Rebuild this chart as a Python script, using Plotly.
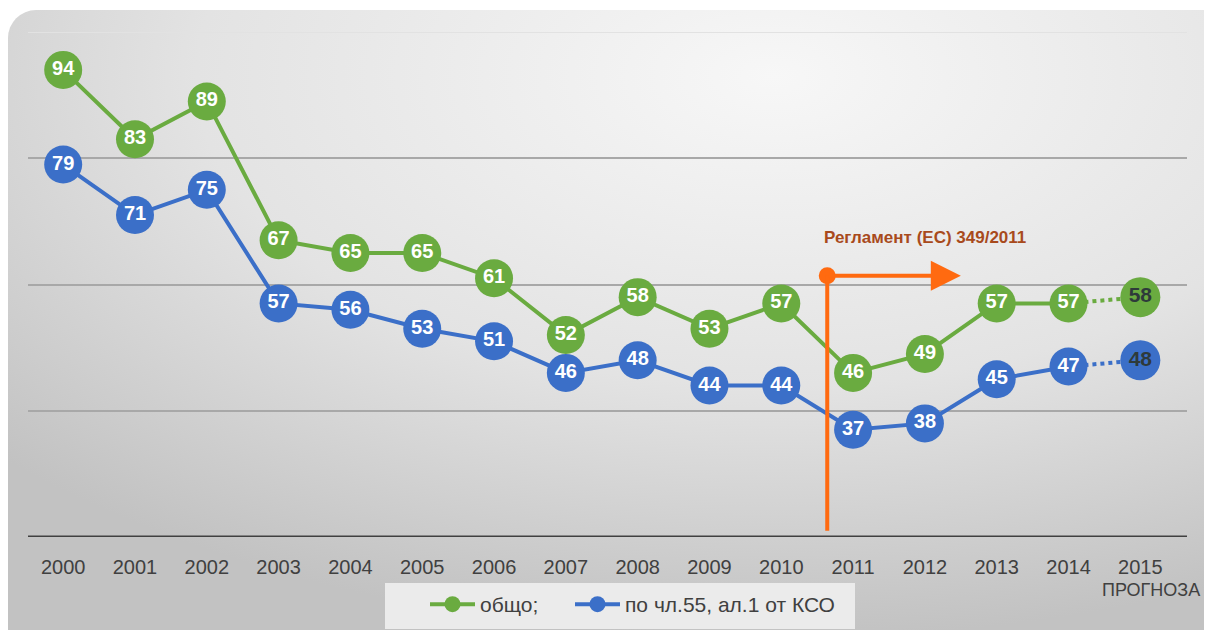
import plotly.graph_objects as go
import urllib.parse

years = ["2000", "2001", "2002", "2003", "2004", "2005", "2006", "2007",
         "2008", "2009", "2010", "2011", "2012", "2013", "2014", "2015"]
total = [94, 83, 89, 67, 65, 65, 61, 52, 58, 53, 57, 46, 49, 57, 57, 58]
art55 = [79, 71, 75, 57, 56, 53, 51, 46, 48, 44, 44, 37, 38, 45, 47, 48]
name_total = "общо;"
name_art55 = "по чл.55, ал.1 от КСО"
forecast_label = "ПРОГНОЗА"
reg_label = "Регламент (ЕС) 349/2011"
reg_pos = 10.64      # between 2010 and 2011
reg_top = 61.4
reg_bottom = 21
reg_arrow_end = 12.5

# page body has an 8px margin, so the figure is sized to fit the window
W, H = 1204, 622
L, R, T, B = 20, 25, 24, 93
pw, ph = W - L - R, H - T - B

GREEN = "#6aab40"
BLUE = "#3b6fc8"
ORANGE = "#ff6a10"
FONT = "Liberation Sans Narrow, Arial Narrow, Liberation Sans, Arial, sans-serif"

xs = list(range(len(years)))
n_act = len(years) - 1  # last one is forecast

svg = f'''<svg xmlns="http://www.w3.org/2000/svg" width="{W}" height="{H}">
<defs><radialGradient id="g" cx="0.62" cy="0.1" r="0.85" gradientUnits="objectBoundingBox">
<stop offset="0" stop-color="#f7f7f7"/><stop offset="0.55" stop-color="#e3e3e3"/><stop offset="1" stop-color="#c2c2c2"/></radialGradient></defs>
<rect x="0" y="0" width="{W}" height="{H}" fill="#ffffff"/>
<rect x="0" y="2" width="{W+30}" height="{H+40}" rx="28" ry="28" fill="url(#g)"/>
</svg>'''
bg_src = "data:image/svg+xml;charset=utf-8," + urllib.parse.quote(svg)

fig = go.Figure()

# forecast dotted connectors
for vals, col in ((total, GREEN), (art55, BLUE)):
    fig.add_trace(go.Scatter(
        x=xs[n_act - 1:], y=vals[n_act - 1:], mode="lines",
        line=dict(color=col, width=4, dash="dot"),
        showlegend=False, hoverinfo="skip"))

for vals, col, nm, lg in ((total, GREEN, name_total, "legend"),
                          (art55, BLUE, name_art55, "legend2")):
    fig.add_trace(go.Scatter(
        x=xs[:n_act], y=vals[:n_act], mode="lines+markers+text", name=nm,
        line=dict(color=col, width=4),
        marker=dict(size=38, color=col),
        text=[str(v) for v in vals[:n_act]], textposition="middle center",
        textfont=dict(family=FONT, size=20, color="white", weight="bold"),
        cliponaxis=False, legend=lg))

for vals, col in ((total, GREEN), (art55, BLUE)):
    fig.add_trace(go.Scatter(
        x=xs[n_act:], y=vals[n_act:], mode="markers+text",
        marker=dict(size=40, color=col),
        text=[str(v) for v in vals[n_act:]], textposition="middle center",
        textfont=dict(family=FONT, size=21, color="#2e3a3a", weight="bold"),
        showlegend=False, cliponaxis=False))

# regulation marker
fig.add_shape(type="line", x0=reg_pos, x1=reg_pos, y0=reg_bottom, y1=reg_top,
              line=dict(color=ORANGE, width=4))
fig.add_annotation(x=reg_arrow_end, y=reg_top, ax=reg_pos, ay=reg_top,
                   xref="x", yref="y", axref="x", ayref="y", text="",
                   showarrow=True, arrowhead=2, arrowsize=1.5, arrowwidth=4,
                   arrowcolor=ORANGE)
fig.add_trace(go.Scatter(x=[reg_pos], y=[reg_top], mode="markers",
                         marker=dict(size=17, color=ORANGE),
                         showlegend=False, hoverinfo="skip", cliponaxis=False))
fig.add_annotation(x=12.0, y=67.4, xref="x", yref="y", text=reg_label,
                   showarrow=False,
                   font=dict(family="Liberation Sans, Arial, sans-serif",
                             size=17, color="#a84a1c", weight="bold"))

# forecast label under 2015
fig.add_annotation(x=15.15, y=-0.105, xref="x", yref="paper", text=forecast_label,
                   showarrow=False, yanchor="middle",
                   font=dict(family=FONT, size=18, color="#404040"))

# top light gridline & baseline
fig.add_shape(type="line", xref="paper", x0=0, x1=1, y0=100, y1=100,
              line=dict(color="#e2e2e2", width=2), layer="below")
fig.add_shape(type="line", xref="paper", x0=0, x1=1, y0=20, y1=20,
              line=dict(color="#404040", width=3), layer="below")

# legend box
lx0, lx1, ly0, ly1 = 377, 847, 575, 621
fig.add_shape(type="rect", xref="paper", yref="paper",
              x0=(lx0 - L) / pw, x1=(lx1 - L) / pw,
              y0=-(ly0 - (H - B)) / ph, y1=-(ly1 - (H - B)) / ph,
              fillcolor="#ebebeb", line=dict(width=0), layer="above")

leg_common = dict(orientation="h", xanchor="left", yanchor="top",
                  y=-(ly0 - (H - B) + 1) / ph, bgcolor="rgba(0,0,0,0)",
                  font=dict(family=FONT, size=21, color="#404040"),
                  itemwidth=45)

fig.update_layout(
    width=W, height=H,
    margin=dict(l=L, r=R, t=T, b=B, autoexpand=False),
    paper_bgcolor="white",
    plot_bgcolor="rgba(0,0,0,0)",
    font=dict(family=FONT, size=19, color="#404040"),
    images=[dict(source=bg_src, xref="paper", yref="paper",
                 x=-L / pw, y=1 + T / ph, sizex=W / pw, sizey=H / ph,
                 sizing="stretch", xanchor="left", yanchor="top", layer="below")],
    xaxis=dict(range=[-0.49, 15.65], tickvals=xs, ticktext=years,
               showgrid=False, zeroline=False, showline=False,
               ticks="", ticklabelstandoff=16,
               tickfont=dict(family=FONT, size=20, color="#404040")),
    yaxis=dict(range=[20, 100], tickvals=[40, 60, 80], showticklabels=False,
               showgrid=True, gridcolor="#a8a8a8", gridwidth=1.5,
               zeroline=False, showline=False, ticks=""),
    legend=dict(x=(417 - L) / pw, **leg_common),
    legend2=dict(x=(562 - L) / pw, **leg_common),
    showlegend=True,
)

fig.write_html("out.html")
